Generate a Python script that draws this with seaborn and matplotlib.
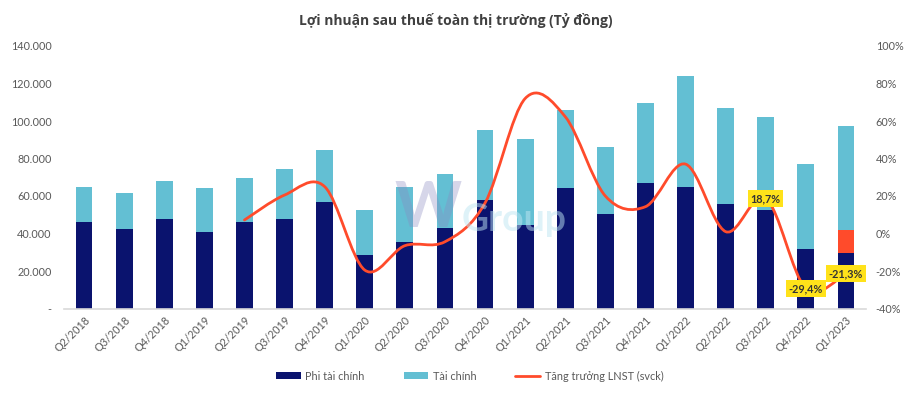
import numpy as np
import pandas as pd
import matplotlib
matplotlib.use("Agg")
import matplotlib.pyplot as plt
import seaborn as sns
from matplotlib.path import Path
from matplotlib.patches import PathPatch, Patch
from matplotlib.lines import Line2D
from matplotlib.ticker import FuncFormatter

# ---------------- data ----------------
quarters = ["Q2/2018", "Q3/2018", "Q4/2018", "Q1/2019", "Q2/2019", "Q3/2019", "Q4/2019",
            "Q1/2020", "Q2/2020", "Q3/2020", "Q4/2020", "Q1/2021", "Q2/2021", "Q3/2021",
            "Q4/2021", "Q1/2022", "Q2/2022", "Q3/2022", "Q4/2022", "Q1/2023"]
phi_tai_chinh = [46000, 42400, 47600, 40600, 46100, 47700, 56800, 28400, 35300, 43100,
                 58000, 44500, 64100, 50400, 66900, 64600, 55600, 52500, 31900, 29800]
tai_chinh = [18700, 19000, 20200, 23800, 23500, 26700, 27900, 24000, 29500, 28800,
             37200, 45700, 41900, 35600, 42500, 59600, 51400, 49800, 45200, 67700]
# red highlighted portion (top of highlight, only Q1/2023)
highlight_top = [np.nan] * 19 + [41700]
# growth of net profit yoy (%) - starts at Q2/2019
growth = [np.nan, np.nan, np.nan, np.nan, 7.2, 20.5, 25.0, -19.5, -6.5, -4.4,
          16.3, 72.0, 62.3, 20.0, 14.3, 37.0, 1.0, 18.7, -29.4, -21.3]
labelled = {17: "18,7%", 18: "-29,4%", 19: "-21,3%"}

left_ticks = [0, 20000, 40000, 60000, 80000, 100000, 120000, 140000]
right_ticks = [-40, -20, 0, 20, 40, 60, 80, 100]

# ---------------- style ----------------
DARK = "#0A136E"
LIGHT = "#63BFD3"
RED = "#FF4B2B"
TXT = "#595959"

sns.set_theme(style="white")
plt.rcParams["font.family"] = ["Lato", "DejaVu Sans"]

df = pd.DataFrame({"q": quarters, "phi": phi_tai_chinh, "tai": tai_chinh,
                   "hl": highlight_top, "g": growth})
df["total"] = df["phi"] + df["tai"]

fig = plt.figure(figsize=(9.12, 3.93), dpi=100)
ax = fig.add_axes([64 / 912, 1 - 308.5 / 393, (866 - 64) / 912, (308.5 - 46) / 393])

W = 0.42
sns.barplot(data=df, x="q", y="total", color=LIGHT, saturation=1, width=W, ax=ax,
            linewidth=0, order=quarters)
sns.barplot(data=df, x="q", y="hl", color=RED, saturation=1, width=W, ax=ax,
            linewidth=0, order=quarters)
sns.barplot(data=df, x="q", y="phi", color=DARK, saturation=1, width=W, ax=ax,
            linewidth=0, order=quarters)

ax.set_xlim(-0.5, len(quarters) - 0.5)
ax.set_ylim(0, 140000)
ax.set_yticks(left_ticks)
ax.yaxis.set_major_formatter(FuncFormatter(
    lambda v, p: "-" if v == 0 else f"{int(v):,}".replace(",", ".")))
ax.set_xlabel("")
ax.set_ylabel("")
for s in ["top", "right", "left"]:
    ax.spines[s].set_visible(False)
ax.spines["bottom"].set_color("#D9D9D9")
ax.spines["bottom"].set_linewidth(1.2)
ax.tick_params(axis="y", length=0, pad=9, labelsize=7.8, labelcolor=TXT)
ax.tick_params(axis="x", length=0, pad=4, labelsize=7.8, labelcolor=TXT)
plt.setp(ax.get_xticklabels(), rotation=45, ha="right", rotation_mode="anchor")

# ---------------- growth line (smoothed, Excel-like) ----------------
ax2 = ax.twinx()
ax2.set_ylim(-40, 100)
ax2.set_yticks(right_ticks)
ax2.yaxis.set_major_formatter(FuncFormatter(lambda v, p: f"{int(v)}%"))
for s in ["top", "right", "left", "bottom"]:
    ax2.spines[s].set_visible(False)
ax2.tick_params(axis="y", length=0, pad=7, labelsize=7.8, labelcolor=TXT)
ax2.grid(False)
ax.grid(False)

gx = [i for i, v in enumerate(growth) if not np.isnan(v)]
gy = [growth[i] for i in gx]
pts = np.column_stack([gx, gy]).astype(float)
verts = [tuple(pts[0])]
codes = [Path.MOVETO]
n = len(pts)
for i in range(n - 1):
    p0 = pts[i - 1] if i > 0 else pts[i]
    p1 = pts[i]
    p2 = pts[i + 1]
    p3 = pts[i + 2] if i + 2 < n else pts[i + 1]
    c1 = p1 + (p2 - p0) / 6.0
    c2 = p2 - (p3 - p1) / 6.0
    verts += [tuple(c1), tuple(c2), tuple(p2)]
    codes += [Path.CURVE4] * 3
ax2.add_patch(PathPatch(Path(verts, codes), fill=False, edgecolor=RED, lw=2.0,
                        capstyle="round", zorder=5))

for i, lab in labelled.items():
    ax2.text(i, growth[i], lab, ha="center", va="center", fontsize=7.8,
             fontweight="bold", color="#333333", zorder=6,
             bbox=dict(boxstyle="square,pad=0.25", facecolor="#FFE21A", edgecolor="none"))

# ---------------- watermark ----------------
fig.text(0.432, 0.47, "W", fontsize=46, fontweight="bold", color="#8A8AC0",
         alpha=0.35, ha="left", va="center", zorder=10)
fig.text(0.506, 0.44, "Group", fontsize=27, fontweight="bold", color="#BFE6F2",
         alpha=0.5, ha="left", va="center", zorder=10)

# ---------------- title & legend ----------------
fig.text(0.5, 1 - 20 / 393, "Lợi nhuận sau thuế toàn thị trường (Tỷ đồng)",
         ha="center", va="center", fontsize=10, fontweight="bold", color="#404040",
         family=["Open Sans", "DejaVu Sans"])

handles = [Patch(facecolor=DARK, edgecolor="none"),
           Patch(facecolor=LIGHT, edgecolor="none"),
           Line2D([0], [0], color=RED, lw=2)]
labels = ["Phi tài chính", "Tài chính", "Tăng trưởng LNST (svck)"]
leg = fig.legend(handles, labels, loc="center", bbox_to_anchor=(0.515, 1 - 376 / 393),
                 ncol=3, frameon=False, fontsize=7.8, handlelength=2.3,
                 handleheight=0.55, columnspacing=3.6, handletextpad=0.4)
for t in leg.get_texts():
    t.set_color(TXT)

fig.savefig("out.png", dpi=100)
